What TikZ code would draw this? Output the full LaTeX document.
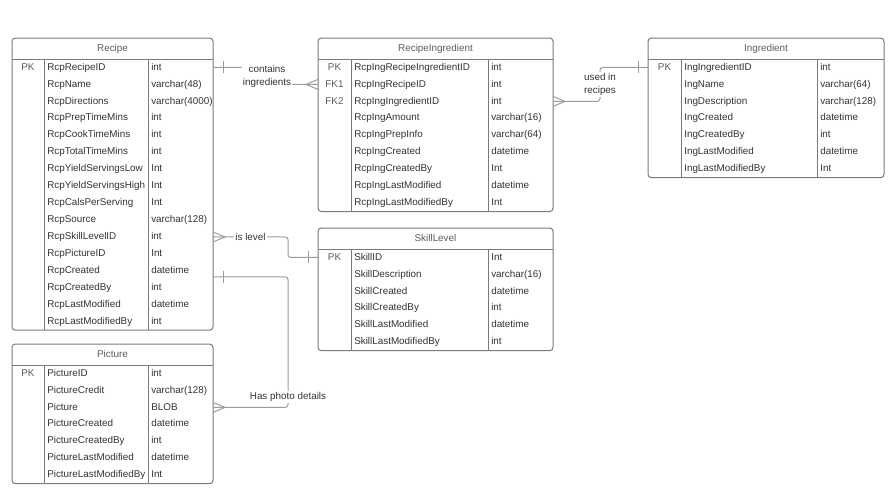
\documentclass[tikz,border=0pt]{standalone}
\usepackage{fontspec}
\setmainfont{Liberation Sans}
\usetikzlibrary{calc}
\definecolor{erdline}{HTML}{7A7A7A}
\definecolor{erdlink}{HTML}{9C9C9C}
\definecolor{erdtext}{HTML}{333333}

\tikzset{
  tblbox/.style={draw=erdline,line width=.75pt,rounded corners=2.5pt,anchor=north west,inner sep=0pt,outer sep=0pt},
  tblline/.style={draw=erdline,line width=.75pt},
  tblhead/.style={font=\fontsize{7.4}{9}\selectfont,text=erdtext!80,inner sep=0pt,text height=5.5pt,text depth=1.5pt},
  tblfield/.style={tblhead,text=erdtext,anchor=west},
  conn/.style={draw=erdlink,line width=.75pt,rounded corners=2pt},
  rellabel/.style={fill=white,inner sep=1pt,align=center,font=\fontsize{7.4}{9.75}\selectfont,text=erdtext},
  many/.pic={\draw[conn,sharp corners] (0,-5) -- (12,0) -- (0,5);},
  one/.pic={\draw[conn] (10,-6) -- (10,6);}
}

\newcommand{\erdtable}[9]{%
  \node[tblbox,minimum width={(#6-#2)*0.75pt},minimum height={(21+16.95*#7)*0.75pt}] (#1) at (#2,#3) {};
  \draw[tblline] (#2,#3+21) -- (#6,#3+21)
    (#4,#3+21) -- (#4,{#3+21+16.95*#7})
    (#5,#3+21) -- (#5,{#3+21+16.95*#7});
  \node[tblhead] at ({(#2+#6)/2},#3+10.5) {#8};
  \foreach \ky/\nm/\ty [count=\i] in {#9} {
    \node[tblhead] at ({(#2+#4)/2},{#3+21+16.95*(\i-.5)}) {\ky};
    \node[tblfield] (#1-\i) at (#4+3,{#3+21+16.95*(\i-.5)}) {\nm};
    \node[tblfield] at (#5+3,{#3+21+16.95*(\i-.5)}) {\ty};
  }%
}

\begin{document}
\begin{tikzpicture}[x=0.75pt,y=-0.75pt]
  \useasboundingbox[fill=white] (0,0) rectangle (895,500);

  \erdtable{recipe}{12}{38}{44}{148}{213}{16}{Recipe}{PK/RcpRecipeID/int, {}/RcpName/varchar(48), {}/RcpDirections/varchar(4000), {}/RcpPrepTimeMins/int, {}/RcpCookTimeMins/int, {}/RcpTotalTimeMins/int, {}/RcpYieldServingsLow/Int, {}/RcpYieldServingsHigh/Int, {}/RcpCalsPerServing/Int, {}/RcpSource/varchar(128), {}/RcpSkillLevelID/int, {}/RcpPictureID/Int, {}/RcpCreated/datetime, {}/RcpCreatedBy/int, {}/RcpLastModified/datetime, {}/RcpLastModifiedBy/int}
  \erdtable{picture}{12}{344}{44}{148}{213}{7}{Picture}{PK/PictureID/int, {}/PictureCredit/varchar(128), {}/Picture/BLOB, {}/PictureCreated/datetime, {}/PictureCreatedBy/int, {}/PictureLastModified/datetime, {}/PictureLastModifiedBy/Int}
  \erdtable{recing}{318}{38}{351}{488}{553}{9}{RecipeIngredient}{PK/RcpIngRecipeIngredientID/int, FK1/RcpIngRecipeID/int, FK2/RcpIngIngredientID/int, {}/RcpIngAmount/varchar(16), {}/RcpIngPrepInfo/varchar(64), {}/RcpIngCreated/datetime, {}/RcpIngCreatedBy/Int, {}/RcpIngLastModified/datetime, {}/RcpIngLastModifiedBy/Int}
  \erdtable{skill}{318}{228}{351}{488}{553}{6}{SkillLevel}{PK/SkillID/Int, {}/SkillDescription/varchar(16), {}/SkillCreated/datetime, {}/SkillCreatedBy/int, {}/SkillLastModified/datetime, {}/SkillLastModifiedBy/int}
  \erdtable{ingredient}{648}{38}{681}{817}{884}{7}{Ingredient}{PK/IngIngredientID/int, {}/IngName/varchar(64), {}/IngDescription/varchar(128), {}/IngCreated/datetime, {}/IngCreatedBy/int, {}/IngLastModified/datetime, {}/IngLastModifiedBy/Int}

  \draw[conn] (recipe.east |- recipe-1) -- ++(54,0) |- node[rellabel,pos=.25] {contains\\ingredients} (recing.west |- recing-2);
  \pic at (recipe.east |- recipe-1) {one};
  \pic[xscale=-1] at (recing.west |- recing-2) {many};

  \draw[conn] (recing.east |- recing-3) -- ++(47,0) |- node[rellabel,pos=.25] {used in\\recipes} (ingredient.west |- ingredient-1);
  \pic at (recing.east |- recing-3) {many};
  \pic[xscale=-1] at (ingredient.west |- ingredient-1) {one};

  \draw[conn] (recipe.east |- recipe-11) -- node[rellabel] {is level} ++(75,0) |- (skill.west |- skill-1);
  \pic at (recipe.east |- recipe-11) {many};
  \pic[xscale=-1] at (skill.west |- skill-1) {one};

  \coordinate (photo) at ($(recipe.east |- recipe-13)+(0,6)$);
  \draw[conn] (photo) -- ++(75,0) |- node[rellabel,pos=.46] {Has photo details} (picture.east |- picture-3);
  \pic at (photo) {one};
  \pic at (picture.east |- picture-3) {many};
\end{tikzpicture}
\end{document}
